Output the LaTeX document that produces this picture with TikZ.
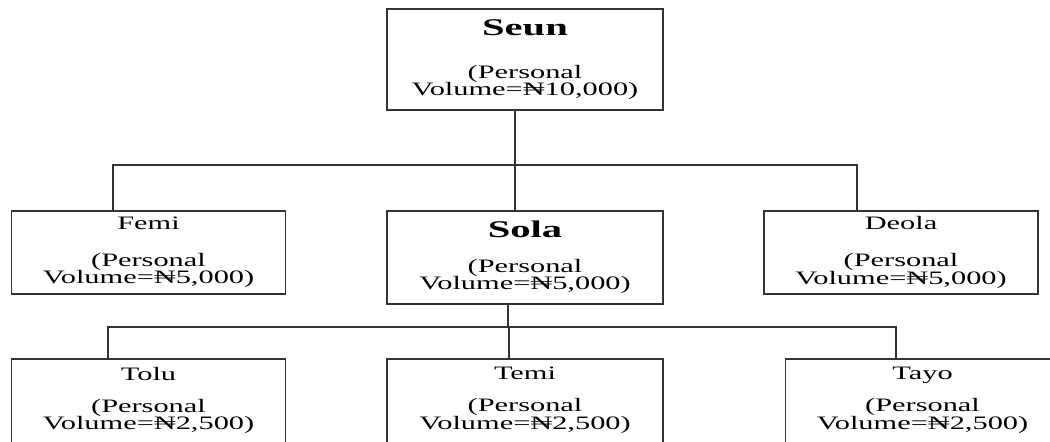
\documentclass[tikz,border=0pt]{standalone}
\usepackage{fontspec}
\setmainfont[FakeStretch=1.6]{Liberation Serif}
\newfontfamily\titlefont[FakeStretch=1.7]{Liberation Serif}
\usetikzlibrary{positioning}

\begin{document}
\begin{tikzpicture}[
  pbox/.style={draw=black!80, line width=0.9pt, inner sep=0pt, align=center, minimum width=6.85cm, minimum height=2.075cm, font=\fontsize{13.5}{12.3}\selectfont\setlength{\lineskiplimit}{-20pt}},
  lowbox/.style={pbox, minimum height=2.6cm},
  link/.style={draw=black!80, line width=0.9pt}
]
  \useasboundingbox (0,0) rectangle (26.25,-11.025);
  \clip (0,0) rectangle (26.25,-11.025);

  % top of the tree
  \node[pbox, minimum width=6.9cm, minimum height=2.525cm] (seun) at (13.125,-1.4875) {{\fontsize{17}{17}\titlefont\bfseries Seun}\\[18.5pt](Personal\\Volume=₦10,000)};

  % second level
  \node[pbox] (femi) at (3.7125,-6.3125) {Femi\\[14pt](Personal\\Volume=₦5,000)};
  \node[pbox, minimum width=6.9cm, minimum height=2.325cm] (sola) at (13.125,-6.4375) {{\fontsize{17}{17}\titlefont\bfseries Sola}\\[12.5pt](Personal\\Volume=₦5,000)};
  \node[pbox] (deola) at (22.525,-6.3125) {Deola\\[14pt](Personal\\Volume=₦5,000)};

  % third level (cut off at the bottom)
  \node[lowbox] (tolu) at (3.7125,-10.275) {Tolu\\[10.5pt](Personal\\Volume=₦2,500)\\[6pt]~};
  \node[lowbox, minimum width=6.9cm] (temi) at (13.125,-10.275) {Temi\\[10.5pt](Personal\\Volume=₦2,500)\\[6pt]~};
  \node[lowbox] (tayo) at (23.0625,-10.275) {Tayo\\[10.5pt](Personal\\Volume=₦2,500)\\[6pt]~};

  % connectors
  \coordinate (bus1) at (12.875,-4.125);
  \coordinate (bus2) at (12.7,-8.175);
  \draw[link] (seun.south -| bus1) -- (sola.north -| bus1);
  \draw[link] (femi.north -| 2.825,0) |- (bus1) -| (deola.north -| 21.425,0);
  \draw[link] (sola.south -| bus2) -- (bus2);
  \draw[link] (tolu.north -| 2.7,0) |- (bus2) -| (tayo.north -| 22.4,0);
  \draw[link] (bus2 -| 12.725,0) -- (temi.north -| 12.725,0);
\end{tikzpicture}
\end{document}
